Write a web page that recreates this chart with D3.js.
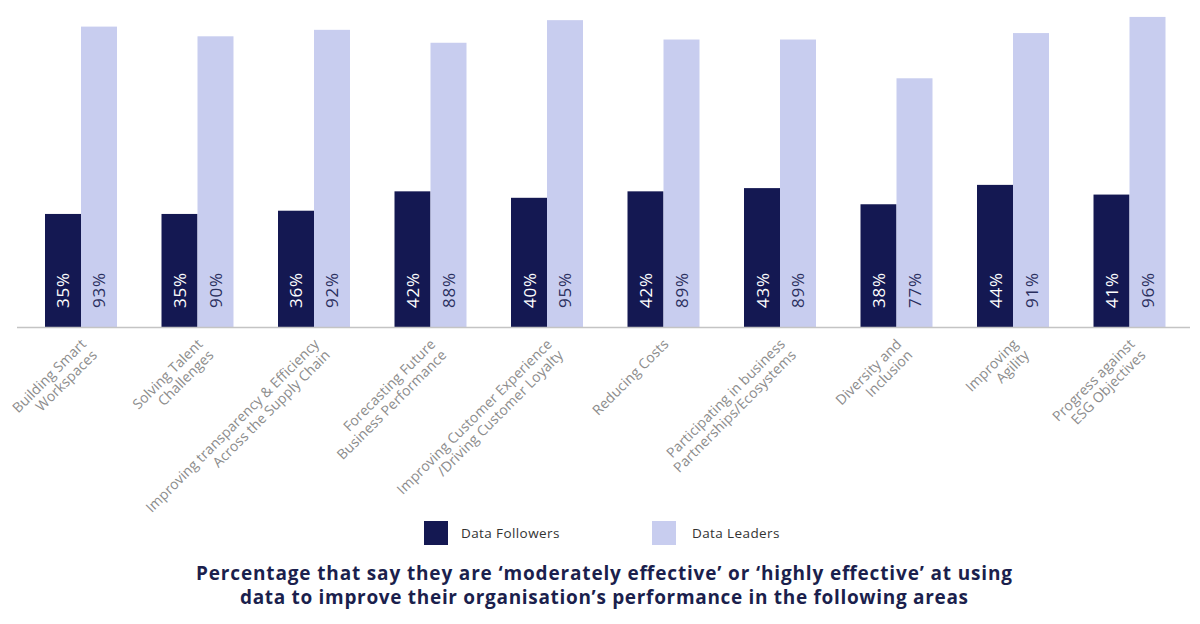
<!DOCTYPE html>
<html><head><meta charset="utf-8">
<script src="https://cdn.jsdelivr.net/npm/d3@7"></script>
<style>body{margin:0;background:#fff}svg{display:block}</style>
</head><body>
<svg id="c" width="1200" height="624"></svg>
<script>
const categories = [
  ["Building Smart","Workspaces"],
  ["Solving Talent","Challenges"],
  ["Improving transparency & Efficiency","Across the Supply Chain"],
  ["Forecasting Future","Business Performance"],
  ["Improving Customer Experience","/Driving Customer Loyalty"],
  ["Reducing Costs"],
  ["Participating in business","Partnerships/Ecosystems"],
  ["Diversity and","Inclusion"],
  ["Improving","Agility"],
  ["Progress against","ESG Objectives"]
];
const seriesNames = ["Data Followers","Data Leaders"];
const followers = [35,35,36,42,40,42,43,38,44,41];
const leaders   = [93,90,92,88,95,89,89,77,91,96];
const colors = ["#141852","#c8cdef"];
const labelColors = ["#ffffff","#2a2f5e"];

const svg = d3.select("#c");
const font = "'Open Sans', 'Noto Sans', sans-serif";
const ids = categories.map((c,i)=>i);
const x0 = d3.scaleBand().domain(ids).range([45,1165.5]).paddingInner(0.382).paddingOuter(0);
const x1 = d3.scaleBand().domain([0,1]).range([0,x0.bandwidth()]);
const y = d3.scaleLinear().domain([0,100]).range([327,4]);

const data = ids.map(i=>({i, vals:[followers[i],leaders[i]]}));
const g = svg.append("g");
const groups = g.selectAll("g.grp").data(data).join("g").attr("class","grp")
  .attr("transform",d=>`translate(${x0(d.i)},0)`);
groups.selectAll("rect").data(d=>d.vals.map((v,k)=>({v,k}))).join("rect")
  .attr("x",d=>x1(d.k)).attr("width",x1.bandwidth())
  .attr("y",d=>y(d.v)).attr("height",d=>y(0)-y(d.v))
  .attr("fill",d=>colors[d.k]);
groups.selectAll("text.val").data(d=>d.vals.map((v,k)=>({v,k}))).join("text")
  .attr("class","val")
  .attr("transform",d=>`translate(${x1(d.k)+x1.bandwidth()/2},308) rotate(-90)`)
  .attr("dominant-baseline","central")
  .attr("font-family",font).attr("font-size",17).attr("letter-spacing",0.8)
  .attr("fill",d=>labelColors[d.k])
  .text(d=>d.v+"%");

// axis line
svg.append("line").attr("x1",17).attr("x2",1190).attr("y1",y(0)+0.5).attr("y2",y(0)+0.5)
  .attr("stroke","#c4c4c4").attr("stroke-width",1.5);

// category labels
const cl = svg.append("g");
data.forEach(d=>{
  const cx = x0(d.i)+x0.bandwidth()/2;
  const t = cl.append("text")
    .attr("transform",`translate(${cx+6},${345}) rotate(-45)`)
    .attr("text-anchor","end")
    .attr("font-family",font).attr("font-size",14).attr("letter-spacing",0.1).attr("fill","#8c8c8c");
  categories[d.i].forEach((line,j)=>{
    t.append("tspan").attr("x",0).attr("dy",j===0?0:15.5).text(line);
  });
});

// legend
const lg = svg.append("g");
[[424,461],[652,692]].forEach((p,k)=>{
  lg.append("rect").attr("x",p[0]).attr("y",521).attr("width",24).attr("height",24).attr("fill",colors[k]);
  lg.append("text").attr("x",p[1]).attr("y",538).attr("font-family",font).attr("font-size",13.5)
    .attr("letter-spacing",0.4).attr("fill","#333").text(seriesNames[k]);
});

// title
const title = ["Percentage that say they are ‘moderately effective’ or ‘highly effective’ at using",
               "data to improve their organisation’s performance in the following areas"];
const titleW = [816, 728];
title.forEach((s,i)=>{
  svg.append("text").attr("x",604).attr("y",580+i*23.5).attr("text-anchor","middle")
    .attr("font-family",font).attr("font-weight","bold").attr("font-size",19)
    .attr("textLength",titleW[i]).attr("lengthAdjust","spacing")
    .attr("fill","#1b1f4d").text(s);
});
</script>
</body></html>
